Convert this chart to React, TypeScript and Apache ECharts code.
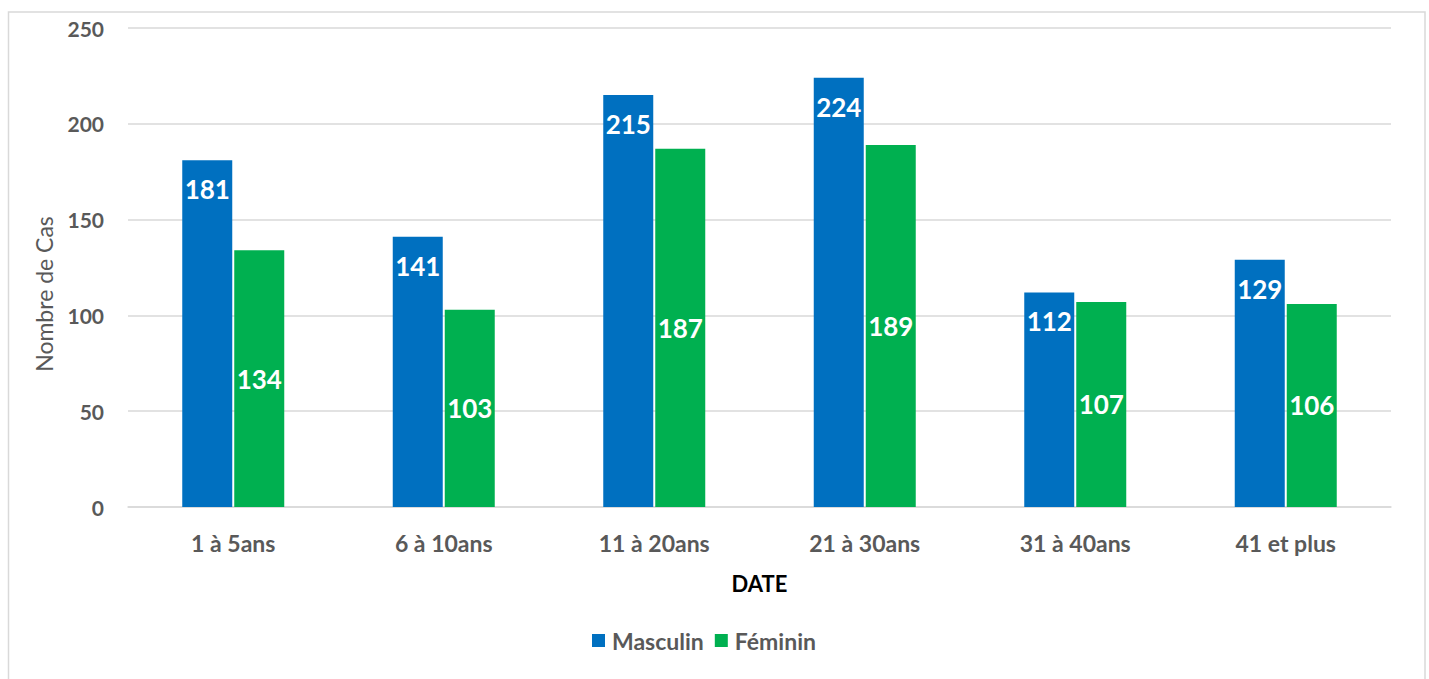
import React, { useEffect, useRef } from "react";
import * as echarts from "echarts";

const categories = ["1 à 5ans", "6 à 10ans", "11 à 20ans", "21 à 30ans", "31 à 40ans", "41 et plus"];
const masculin = [181, 141, 215, 224, 112, 129];
const feminin = [134, 103, 187, 189, 107, 106];
const yTicks = { min: 0, max: 250, interval: 50 };

const FONT = "Lato, 'Open Sans', sans-serif";
const GRAY = "#595959";

export default function App() {
  const ref = useRef<HTMLDivElement>(null);
  useEffect(() => {
    if (!ref.current) return;
    const chart = echarts.init(ref.current, undefined, { renderer: "svg" });
    chart.setOption({
      animation: false,
      backgroundColor: "#ffffff",
      textStyle: { fontFamily: FONT },
      graphic: [
        {
          type: "rect",
          shape: { x: 8.5, y: 12, width: 1416.5, height: 690 },
          style: { fill: "none", stroke: "#d9d9d9", lineWidth: 1.5 },
          silent: true,
        },
        {
          type: "text",
          x: 44,
          y: 294,
          rotation: Math.PI / 2,
          style: {
            text: "Nombre de Cas",
            fontFamily: FONT,
            fontSize: 23,
            fill: GRAY,
            align: "center",
            verticalAlign: "middle",
          },
        },
      ],
      grid: { left: 128, right: 38, top: 28, bottom: 172 },
      legend: {
        left: 587,
        top: 624,
        itemWidth: 13,
        itemHeight: 13,
        itemGap: 11,
        icon: "rect",
        textStyle: { fontFamily: FONT, fontSize: 23, fontWeight: "bold", color: GRAY, padding: [0, 0, 0, 2] },
        data: ["Masculin", "Féminin"],
      },
      xAxis: {
        type: "category",
        data: categories,
        name: "DATE",
        nameLocation: "middle",
        nameGap: 65,
        nameTextStyle: { fontFamily: FONT, fontSize: 22, fontWeight: "bold", color: "#000000" },
        axisLine: { show: true, lineStyle: { color: "#d9d9d9", width: 1.5 } },
        axisTick: { show: false },
        axisLabel: { fontFamily: FONT, fontSize: 23, fontWeight: "bold", color: GRAY, margin: 24 },
      },
      yAxis: {
        type: "value",
        min: yTicks.min,
        max: yTicks.max,
        interval: yTicks.interval,
        axisLine: { show: false },
        axisTick: { show: false },
        splitLine: { lineStyle: { color: "#d9d9d9", width: 1.5 } },
        axisLabel: { fontFamily: FONT, fontSize: 21, fontWeight: "bold", color: GRAY, margin: 24 },
      },
      series: [
        {
          name: "Masculin",
          type: "bar",
          data: masculin,
          barWidth: 50,
          barGap: "4%",
          itemStyle: { color: "#0070C0" },
          label: {
            show: true,
            position: "insideTop",
            distance: 16,
            color: "#ffffff",
            fontFamily: FONT,
            fontSize: 26,
            fontWeight: "bold",
          },
        },
        {
          name: "Féminin",
          type: "bar",
          data: feminin,
          barWidth: 50,
          barGap: "4%",
          itemStyle: { color: "#00B050" },
          label: {
            show: true,
            position: "inside",
            color: "#ffffff",
            fontFamily: FONT,
            fontSize: 26,
            fontWeight: "bold",
          },
        },
      ],
    });
    return () => chart.dispose();
  }, []);
  return (
    <div
      ref={ref}
      style={{ position: "absolute", left: 0, top: 0, width: 1429, height: 679 }}
    />
  );
}
